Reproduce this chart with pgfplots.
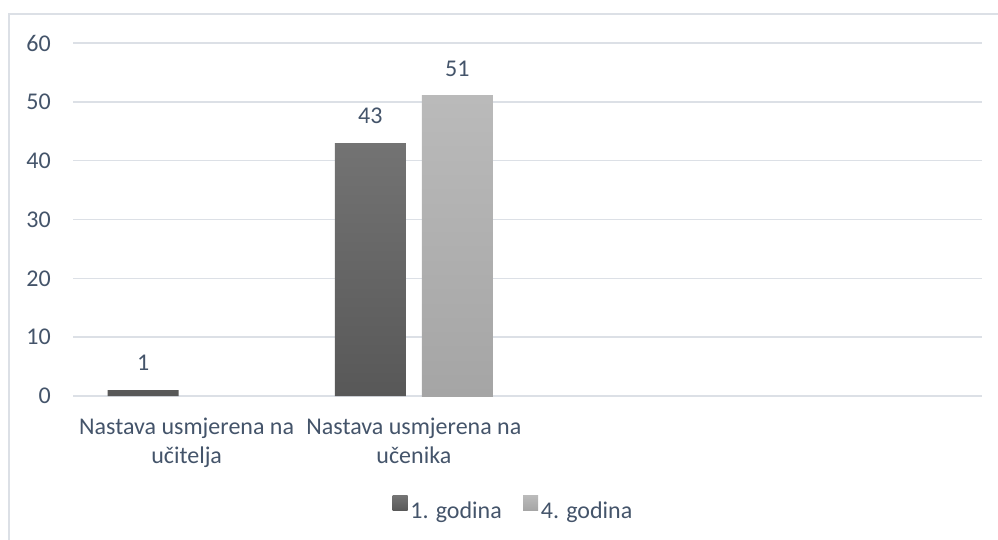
\documentclass[border=0pt]{standalone}
\usepackage{pgfplots}
\pgfplotsset{compat=1.18}
\usepackage{fontspec}
\setmainfont{Carlito}
\definecolor{txt}{HTML}{44546A}
\definecolor{grd}{HTML}{DCE0E6}
\definecolor{dtop}{HTML}{737373}
\definecolor{dbot}{HTML}{585858}
\definecolor{ltop}{HTML}{BABABA}
\definecolor{lbot}{HTML}{A5A5A5}
\newcommand{\cfont}{\fontsize{18}{21.75}\selectfont}
\begin{document}
\begin{tikzpicture}
\useasboundingbox (0,0) rectangle (748.5pt,404.25pt);
\draw[grd, line width=1.2pt] (6.75pt,-5pt) -- (6.75pt,393.75pt) -- (760pt,393.75pt);
\begin{axis}[
  at={(54.75pt,107.25pt)}, anchor=south west,
  scale only axis, width=681.75pt, height=264.75pt,
  xmin=-0.5, xmax=3.5, ymin=0, ymax=60,
  xtick={0,1,2,3},
  xticklabels={{Nastava usmjerena na\\učitelja},{Nastava usmjerena na\\učenika},{},{}},
  ytick={0,10,...,60},
  ymajorgrids, grid style={grd, line width=1.1pt},
  axis line style={draw=none},
  major tick length=0pt,
  /pgf/number format/assume math mode=true,
  tick label style={font=\cfont, text=txt},
  xticklabel style={align=center, inner sep=0pt, anchor=north, yshift=-16pt},
  yticklabel style={inner sep=0pt, anchor=east, xshift=-16.5pt},
  ybar=12pt, bar width=53.25pt,
  nodes near coords,
  nodes near coords style={font=\cfont, text=txt, inner sep=0pt, anchor=south, yshift=14.25pt},
  clip=false,
  legend columns=2,
  legend style={at={(0.485,-0.317)}, anchor=center, draw=none, fill=none,
    font=\cfont, text=txt, inner sep=0pt,
    nodes={inner xsep=2pt, inner ysep=0pt},
    /tikz/every even column/.append style={column sep=14pt}},
  legend image code/.code={\path[#1, draw=none] (0pt,0pt) rectangle (11.25pt,11.25pt);},
]
\addplot[draw=none, top color=dtop, bottom color=dbot] coordinates {(0,1) (1,43)};
\addplot[draw=none, top color=ltop, bottom color=lbot] coordinates {(1,51)};
\legend{1. godina, 4. godina}
\end{axis}
\end{tikzpicture}
\end{document}
